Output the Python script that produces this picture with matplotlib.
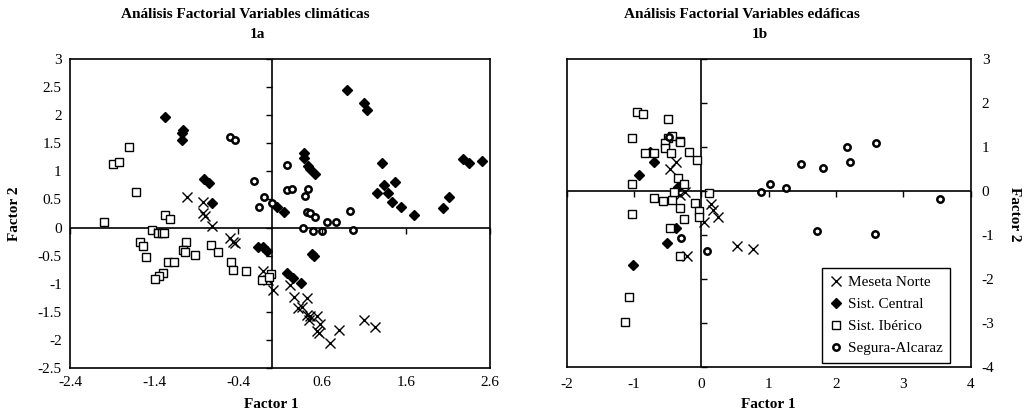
import matplotlib.pyplot as plt
from matplotlib.lines import Line2D

plt.rcParams["font.family"] = ["Liberation Serif", "DejaVu Serif"]

# --- 1a: variables climáticas (Factor 1, Factor 2) ---
clim_meseta = [(-1.01, 0.54), (-0.82, 0.46), (-0.82, 0.25), (-0.79, 0.20), (-0.71, 0.02),
               (-0.50, -0.19), (-0.46, -0.25), (-0.44, -0.28), (-0.10, -0.78), (-0.04, -0.93),
               (0.02, -1.12), (0.22, -1.02), (0.27, -1.23), (0.42, -1.26), (0.32, -1.44),
               (0.36, -1.42), (0.42, -1.56), (0.46, -1.57), (0.44, -1.64), (0.54, -1.58),
               (0.58, -1.72), (0.54, -1.85), (0.56, -1.88), (0.70, -2.05), (0.80, -1.83),
               (1.10, -1.64), (1.23, -1.77)]
clim_central = [(-1.27, 1.97), (-1.06, 1.74), (-1.07, 1.68), (-1.07, 1.55), (-0.80, 0.86),
                (-0.75, 0.80), (-0.71, 0.44), (0.07, 0.37), (0.15, 0.27), (0.90, 2.44),
                (1.10, 2.22), (1.13, 2.10), (0.38, 1.32), (0.39, 1.23), (0.43, 1.10),
                (0.46, 1.05), (0.52, 0.95), (1.31, 1.14), (1.34, 0.76), (1.47, 0.81),
                (1.39, 0.62), (1.26, 0.62), (1.43, 0.46), (1.54, 0.36), (1.70, 0.23),
                (2.04, 0.34), (2.11, 0.55), (2.28, 1.22), (2.35, 1.14), (2.51, 1.18),
                (-0.16, -0.34), (-0.10, -0.35), (-0.06, -0.41), (0.48, -0.47), (0.50, -0.51),
                (0.18, -0.81), (0.25, -0.90), (0.35, -0.98)]
clim_iberico = [(-1.99, 0.09), (-1.89, 1.13), (-1.82, 1.16), (-1.70, 1.43), (-1.62, 0.64),
                (-1.27, 0.22), (-1.21, 0.16), (-1.43, -0.05), (-1.35, -0.09), (-1.31, -0.10),
                (-1.28, -0.10), (-1.57, -0.26), (-1.53, -0.32), (-1.50, -0.52), (-1.02, -0.26),
                (-1.05, -0.40), (-1.03, -0.43), (-0.91, -0.49), (-1.23, -0.61), (-1.16, -0.61),
                (-1.29, -0.81), (-1.34, -0.87), (-1.39, -0.92), (-0.72, -0.31), (-0.64, -0.44),
                (-0.48, -0.61), (-0.46, -0.75), (-0.31, -0.78), (-0.11, -0.93), (-0.01, -0.83),
                (-0.03, -0.88)]
clim_segura = [(-0.50, 1.62), (-0.44, 1.55), (-0.21, 0.82), (-0.09, 0.54), (-0.15, 0.37),
               (0.01, 0.44), (0.18, 1.11), (0.18, 0.67), (0.24, 0.69), (0.43, 0.69),
               (0.40, 0.56), (0.42, 0.28), (0.46, 0.25), (0.52, 0.19), (0.66, 0.09),
               (0.77, 0.09), (0.93, 0.30), (0.37, 0.00), (0.49, -0.07), (0.60, -0.07),
               (0.97, -0.05)]

# --- 1b: variables edáficas ---
eda_meseta = [(-0.38, 0.67), (-0.47, 0.50), (-0.32, -0.09), (-0.24, -0.03), (0.15, -0.30),
              (0.18, -0.43), (0.25, -0.58), (0.04, -0.70), (-0.22, -1.48), (0.53, -1.25),
              (0.77, -1.32)]
eda_central = [(-0.77, 0.89), (-0.70, 0.67), (-0.92, 0.36), (-0.35, 0.10), (-0.38, -0.85),
               (-0.51, -1.19), (-1.02, -1.68)]
eda_iberico = [(-0.95, 1.80), (-0.86, 1.74), (-0.50, 1.64), (-1.03, 1.20), (-0.49, 1.21),
               (-0.43, 1.26), (-0.54, 1.08), (-0.32, 1.14), (-0.31, 1.11), (-0.19, 0.89),
               (-0.54, 0.97), (-0.45, 0.86), (-0.83, 0.86), (-0.71, 0.86), (-0.06, 0.70),
               (-0.35, 0.30), (-0.26, 0.17), (-1.03, 0.15), (0.11, -0.04), (-0.71, -0.17),
               (-0.57, -0.22), (-0.43, -0.20), (-0.40, -0.02), (-0.31, -0.39), (-0.09, -0.28),
               (-0.04, -0.45), (-0.04, -0.60), (-0.26, -0.64), (-1.03, -0.52), (-0.47, -0.85),
               (-0.32, -1.48), (-1.08, -2.41), (-1.14, -2.98)]
eda_segura = [(-0.48, 1.23), (-0.30, -1.06), (0.09, -1.36), (0.88, -0.02), (1.02, 0.16),
              (1.26, 0.06), (1.48, 0.61), (1.81, 0.53), (2.16, 0.99), (2.21, 0.65),
              (2.60, 1.10), (3.55, -0.19), (1.71, -0.90), (2.58, -0.98)]

labels = ["Meseta Norte", "Sist. Central", "Sist. Ibérico", "Segura-Alcaraz"]
styles = [
    dict(marker="x", color="black", markersize=7, markeredgewidth=1.0),
    dict(marker="D", color="black", markersize=5.5, markerfacecolor="black"),
    dict(marker="s", color="black", markersize=5.5, markerfacecolor="white", markeredgewidth=1.0),
    dict(marker="o", color="black", markersize=4.6, markerfacecolor="white", markeredgewidth=1.8),
]

fig = plt.figure(figsize=(10.27, 4.12), dpi=100)
ax1 = fig.add_axes([0.0682, 0.1068, 0.4089, 0.75])
ax2 = fig.add_axes([0.5518, 0.1092, 0.3934, 0.7476])


def draw(ax, groups, xlim, ylim, xticks, yticks, ytick_dir):
    for pts, st in zip(groups, styles):
        xs = [p[0] for p in pts]
        ys = [p[1] for p in pts]
        ax.plot(xs, ys, linestyle="none", **st)
    ax.set_xlim(*xlim)
    ax.set_ylim(*ylim)
    ax.set_xticks(xticks)
    ax.set_yticks(yticks)
    ax.set_xticklabels([f"{t:g}" for t in xticks])
    ax.set_yticklabels([f"{t:g}" for t in yticks])
    ax.tick_params(length=0, labelsize=11, pad=6)
    for s in ax.spines.values():
        s.set_linewidth(1.2)
    # ejes cruzando en el origen, estilo Excel
    ax.axhline(0, color="black", lw=1.2, zorder=1)
    ax.axvline(0, color="black", lw=1.2, zorder=1)
    ax.plot(xticks, [0] * len(xticks), linestyle="none", marker=3, markersize=4,
            color="black", markeredgewidth=1, clip_on=False)
    ax.plot([0] * len(yticks), yticks, linestyle="none", marker=ytick_dir, markersize=4,
            color="black", markeredgewidth=1, clip_on=False)


draw(ax1, [clim_meseta, clim_central, clim_iberico, clim_segura],
     (-2.4, 2.6), (-2.5, 3), [-2.4, -1.4, -0.4, 0.6, 1.6, 2.6],
     [-2.5, -2, -1.5, -1, -0.5, 0, 0.5, 1, 1.5, 2, 2.5, 3], 0)
draw(ax2, [eda_meseta, eda_central, eda_iberico, eda_segura],
     (-2, 4), (-4, 3), [-2, -1, 0, 1, 2, 3, 4], [-4, -3, -2, -1, 0, 1, 2, 3], 1)
ax2.yaxis.tick_right()
ax2.tick_params(length=0, labelsize=11, pad=8)

fig.text(0.239, 0.965, "Análisis Factorial Variables climáticas", ha="center", va="center",
         fontsize=11, fontweight="bold")
fig.text(0.251, 0.917, "1a", ha="center", va="center", fontsize=11, fontweight="bold")
fig.text(0.722, 0.965, "Análisis Factorial Variables edáficas", ha="center", va="center",
         fontsize=11, fontweight="bold")
fig.text(0.740, 0.917, "1b", ha="center", va="center", fontsize=11, fontweight="bold")

fig.text(0.264, 0.018, "Factor 1", ha="center", va="center", fontsize=11, fontweight="bold")
fig.text(0.748, 0.018, "Factor 1", ha="center", va="center", fontsize=11, fontweight="bold")
fig.text(0.014, 0.48, "Factor 2", ha="center", va="center", rotation=90, fontsize=11,
         fontweight="bold")
fig.text(0.988, 0.48, "Factor 2", ha="center", va="center", rotation=270, fontsize=11,
         fontweight="bold")

handles = [Line2D([], [], linestyle="none", **st) for st in styles]
leg = ax2.legend(handles, labels, loc="lower right", bbox_to_anchor=(0.949, 0.013),
                 fontsize=11, frameon=True, fancybox=False, framealpha=1,
                 edgecolor="black", handlelength=0.8, handletextpad=0.4,
                 borderpad=0.5, labelspacing=0.55, borderaxespad=0)
leg.get_frame().set_linewidth(1.0)

fig.savefig("out.png", dpi=100)
